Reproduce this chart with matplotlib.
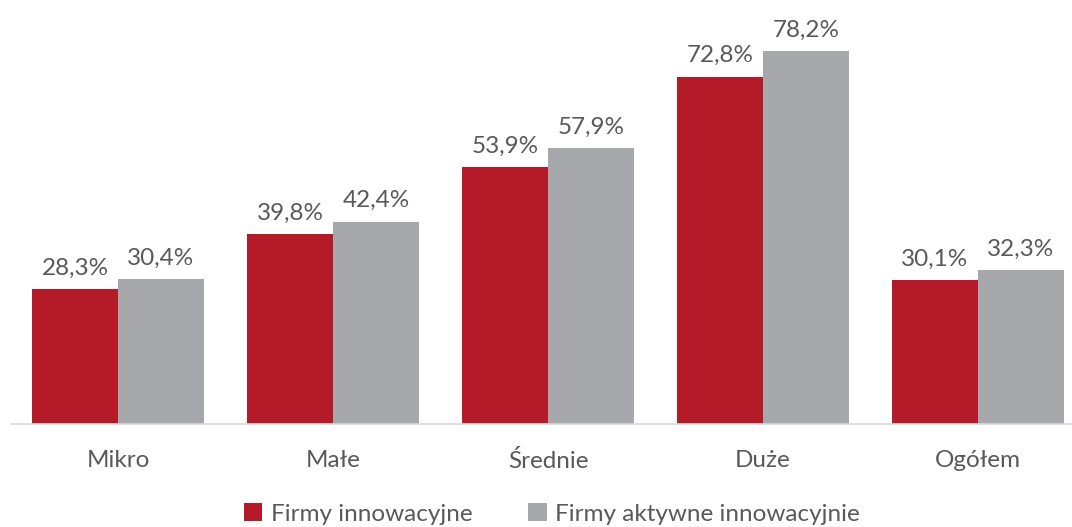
import matplotlib
matplotlib.use("Agg")
import matplotlib.pyplot as plt
import numpy as np

categories = ["Mikro", "Małe", "Średnie", "Duże", "Ogółem"]
innowacyjne = [28.3, 39.8, 53.9, 72.8, 30.1]
aktywne = [30.4, 42.4, 57.9, 78.2, 32.3]
series_names = ["Firmy innowacyjne", "Firmy aktywne innowacyjnie"]

RED = "#B41A28"
GRAY = "#A6A8AB"
TXT = "#595959"

plt.rcParams['font.family'] = ['Lato', 'DejaVu Sans']
FS = 17.5

fig = plt.figure(figsize=(10.72, 5.27), dpi=100)
W, H = 1072, 527
left, right = 10.5, 1072
bottom, top = 424, 0
ax = fig.add_axes([left / W, 1 - bottom / H, (right - left) / W, (bottom - top) / H])

x = np.arange(len(categories))
bw = 0.4
b1 = ax.bar(x - bw / 2, innowacyjne, bw, color=RED, label=series_names[0])
b2 = ax.bar(x + bw / 2, aktywne, bw, color=GRAY, label=series_names[1])

for bars, vals in ((b1, innowacyjne), (b2, aktywne)):
    for r, v in zip(bars, vals):
        ax.annotate(f"{v:.1f}%".replace(".", ","), (r.get_x() + r.get_width() / 2, v),
                    xytext=(0, 7.5), textcoords="offset points", ha="center", va="bottom",
                    fontsize=FS, color=TXT)

ax.set_xlim(-0.5, 4.5 - 13.5 / 215)
ax.set_ylim(0, 424 / 4.77)
ax.set_xticks(x)
ax.set_xticklabels(categories, fontsize=FS, color=TXT)
ax.tick_params(axis='x', length=0, pad=19)
ax.set_yticks([])
for s in ("top", "right", "left"):
    ax.spines[s].set_visible(False)
ax.spines["bottom"].set_color("#D9D9D9")
ax.spines["bottom"].set_linewidth(1.2)
ax.patch.set_alpha(0)

fig.legend(handles=[b1, b2], labels=series_names, loc="center", bbox_to_anchor=(0.515, 1 - 514 / H),
           ncol=2, frameon=False, fontsize=FS, labelcolor=TXT, handlelength=0.75, handleheight=0.75,
           handletextpad=0.35, columnspacing=2.3)

fig.savefig("out.png", dpi=100)
